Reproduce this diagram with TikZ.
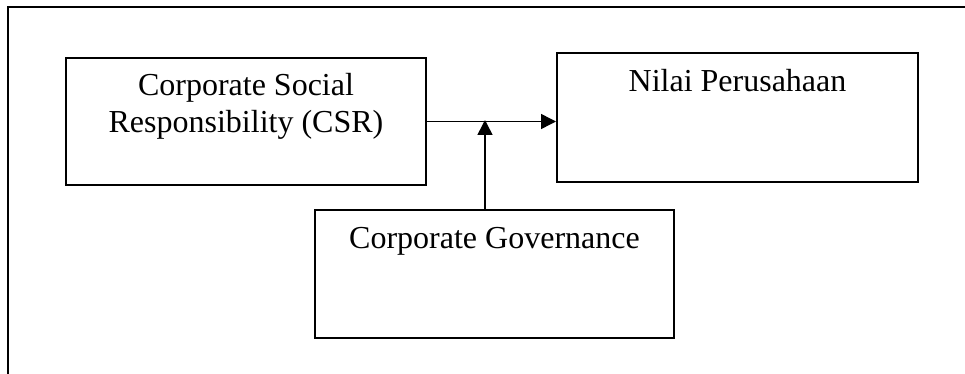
\documentclass[tikz,border=0pt]{standalone}
\usepackage{fontspec}
\setmainfont{Liberation Serif}
\usetikzlibrary{arrows.meta}

\begin{document}
\begin{tikzpicture}[x=0.5pt,y=-0.5pt,>={Triangle[length=7.5pt,width=7.5pt]},
                    line width=0.75pt,
                    font=\fontsize{16}{18.5}\selectfont]
  \tikzset{box/.style={draw,line width=1pt,inner sep=0pt,anchor=north west},
           caption/.style={anchor=base,align=center,inner sep=0pt}}

  \useasboundingbox (0,0) rectangle (965,374);
  \draw[line width=1pt] (8,374) -- (8,7) -- (965,7);

  \node[box,minimum width=180pt,minimum height=63.5pt] (csr) at (65,57) {};
  \node[box,minimum width=180.5pt,minimum height=64.5pt] (nilai) at (556,52) {};
  \node[box,minimum width=179.5pt,minimum height=64pt] (gov) at (314,209) {};

  % base of a two-line node is its last line
  \node[caption] (csrtext) at ([yshift=-38pt]csr.north)
    {Corporate Social\\Responsibility (CSR)};
  \node[caption] (nilaitext) at ([yshift=-20pt]nilai.north) {Nilai Perusahaan};
  \node[caption] (govtext) at ([yshift=-20pt]gov.north) {Corporate Governance};

  \coordinate (join) at (485,120);
  \draw[->] (csr.east) -- (csr.east -| nilai.west);
  \draw[->] (gov.north -| join) -- (join);
\end{tikzpicture}
\end{document}
